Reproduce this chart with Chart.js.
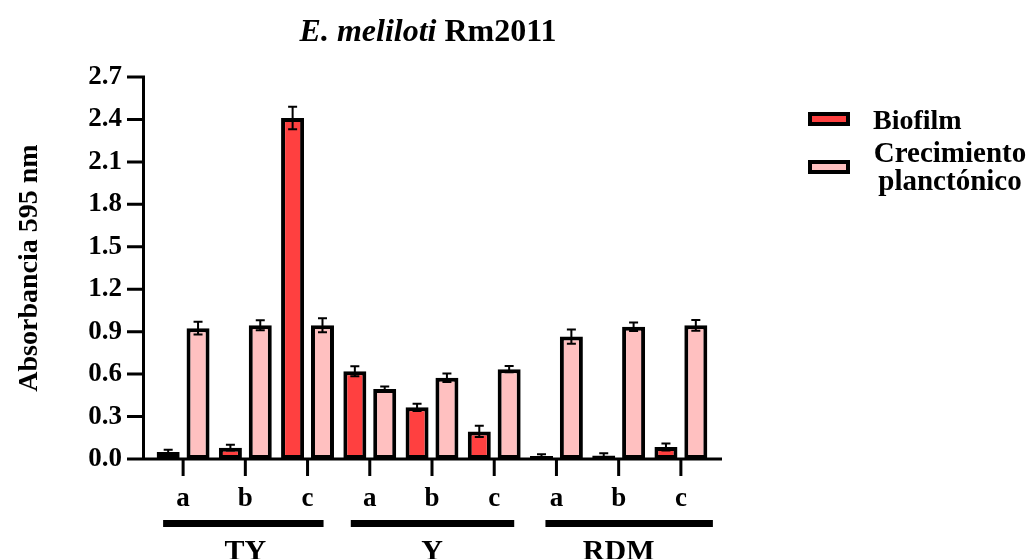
<!DOCTYPE html>
<html>
<head>
<meta charset="utf-8">
<script src="https://cdn.jsdelivr.net/npm/chart.js@4"></script>
<style>
  html, body { margin: 0; padding: 0; background: #fff; }
  #wrap { width: 1030px; height: 559px; }
</style>
</head>
<body>
<div id="wrap"><canvas id="absChart" width="1030" height="559"></canvas></div>
<script>
// data
const categories = ['a', 'b', 'c', 'a', 'b', 'c', 'a', 'b', 'c'];
const groups = ['TY', 'Y', 'RDM'];
const biofilm = [0.05, 0.08, 2.41, 0.62, 0.365, 0.195, 0.022, 0.025, 0.085];
const biofilmErr = [0.015, 0.02, 0.08, 0.035, 0.025, 0.04, 0.012, 0.015, 0.025];
const planktonic = [0.925, 0.945, 0.945, 0.495, 0.575, 0.635, 0.865, 0.935, 0.945];
const planktonicErr = [0.045, 0.035, 0.05, 0.018, 0.03, 0.022, 0.05, 0.03, 0.038];
const yTicks = [0, 0.3, 0.6, 0.9, 1.2, 1.5, 1.8, 2.1, 2.4, 2.7];

const FONT = 'Liberation Serif';
const groupLines = [[-20, 16], [-19, 20], [-11, 32]];

const decorPlugin = {
    id: 'decor',
    afterDatasetsDraw(chart) {
        const c = chart.ctx;
        const x = chart.scales.x;
        const y = chart.scales.y;
        const axisX = 143.5;
        const y0 = y.getPixelForValue(0);

        // error bars
        const errs = [biofilmErr, planktonicErr];
        chart.data.datasets.forEach((ds, di) => {
            const meta = chart.getDatasetMeta(di);
            meta.data.forEach((bar, i) => {
                const v = ds.data[i];
                const e = errs[di][i];
                const top = y.getPixelForValue(v + e);
                const bot = y.getPixelForValue(Math.max(0, v - e));
                c.save();
                c.strokeStyle = '#000';
                c.lineWidth = 2;
                c.beginPath();
                c.moveTo(bar.x, top); c.lineTo(bar.x, bot);
                c.moveTo(bar.x - 4.5, top); c.lineTo(bar.x + 4.5, top);
                c.moveTo(bar.x - 4.5, bot); c.lineTo(bar.x + 4.5, bot);
                c.stroke();
                c.restore();
            });
        });

        c.save();
        c.strokeStyle = '#000';
        c.lineWidth = 3;
        c.lineCap = 'butt';
        // y axis
        c.beginPath();
        c.moveTo(axisX, y.getPixelForValue(2.7) - 1.5);
        c.lineTo(axisX, y0 + 1.5);
        yTicks.forEach(v => {
            const py = y.getPixelForValue(v);
            c.moveTo(127, py); c.lineTo(axisX, py);
        });
        // x axis
        c.moveTo(axisX, y0); c.lineTo(722, y0);
        categories.forEach((_, i) => {
            const px = x.getPixelForValue(i);
            c.moveTo(px, y0); c.lineTo(px, y0 + 17);
        });
        c.stroke();

        // group lines and labels
        c.lineWidth = 7;
        c.fillStyle = '#000';
        c.textAlign = 'center';
        c.textBaseline = 'alphabetic';
        c.font = 'bold 30px ' + FONT;
        groups.forEach((g, gi) => {
            const xa = x.getPixelForValue(gi * 3);
            const xb = x.getPixelForValue(gi * 3 + 1);
            const xc = x.getPixelForValue(gi * 3 + 2);
            c.beginPath();
            c.moveTo(xa + groupLines[gi][0], 523.5);
            c.lineTo(xc + groupLines[gi][1], 523.5);
            c.stroke();
            c.fillText(g, xb, 560);
        });

        // y axis title
        c.save();
        c.translate(30, (chart.chartArea.top + chart.chartArea.bottom) / 2);
        c.rotate(-Math.PI / 2);
        c.textBaseline = 'middle';
        c.font = 'bold 28px ' + FONT;
        c.fillText('Absorbancia 595 nm', 0, 0);
        c.restore();

        // title with italic species name
        const part1 = 'E. meliloti ';
        const part2 = 'Rm2011';
        c.textAlign = 'left';
        c.font = 'italic bold 32px ' + FONT;
        const w1 = c.measureText(part1).width;
        c.font = 'bold 32px ' + FONT;
        const w2 = c.measureText(part2).width;
        let tx = 428 - (w1 + w2) / 2;
        c.font = 'italic bold 32px ' + FONT;
        c.fillText(part1, tx, 41);
        c.font = 'bold 32px ' + FONT;
        c.fillText(part2, tx + w1, 41);

        // legend
        chart.data.datasets.forEach((ds, di) => {
            const by = di === 0 ? 112 : 160;
            c.fillStyle = ds.backgroundColor;
            c.fillRect(808, by, 42, 14);
            c.lineWidth = 4;
            c.strokeRect(810, by + 2, 38, 10);
        });
        c.fillStyle = '#000';
        c.font = 'bold 28px ' + FONT;
        c.fillText('Biofilm', 873, 129);
        c.textAlign = 'center';
        c.font = 'bold 29px ' + FONT;
        c.fillText('Crecimiento', 950, 162);
        c.fillText('planctónico', 950, 190);
        c.restore();
    }
};

const ctx = document.getElementById('absChart').getContext('2d');
const absChart = new Chart(ctx, {
    type: 'bar',
    data: {
        labels: categories,
        datasets: [{
            label: 'Biofilm',
            data: biofilm,
            backgroundColor: '#ff4040',
            borderColor: '#000',
            borderWidth: 4,
            borderSkipped: false
        }, {
            label: 'Crecimiento planctónico',
            data: planktonic,
            backgroundColor: '#ffc0c0',
            borderColor: '#000',
            borderWidth: 4,
            borderSkipped: false
        }]
    },
    options: {
        responsive: false,
        animation: false,
        layout: { padding: { left: 0, right: 318, top: 77, bottom: 0 } },
        categoryPercentage: 0.96,
        barPercentage: 0.77,
        scales: {
            x: {
                grid: { display: false, drawTicks: false },
                border: { display: false },
                ticks: {
                    color: '#000',
                    padding: 24,
                    font: { family: FONT, size: 27, weight: 'bold' }
                },
                afterFit(scale) { scale.height = 100; }
            },
            y: {
                min: 0,
                max: 2.7,
                grid: { display: false, drawTicks: false },
                border: { display: false },
                afterBuildTicks(scale) { scale.ticks = yTicks.map(v => ({ value: v })); },
                ticks: {
                    color: '#000',
                    padding: 30,
                    font: { family: FONT, size: 27, weight: 'bold' },
                    callback: v => Number(v).toFixed(1)
                },
                afterFit(scale) { scale.width = 152; }
            }
        },
        plugins: {
            legend: { display: false },
            tooltip: { enabled: false }
        }
    },
    plugins: [decorPlugin]
});
</script>
</body>
</html>
